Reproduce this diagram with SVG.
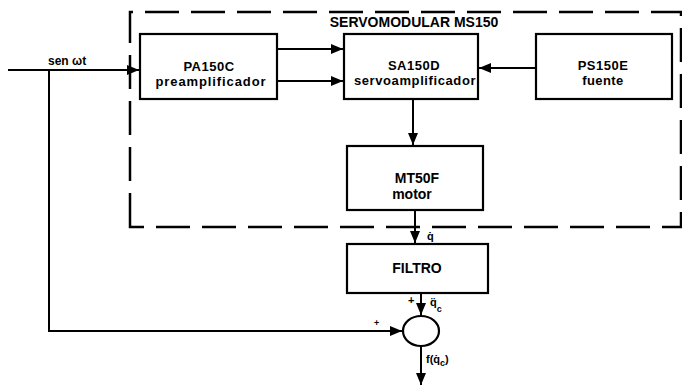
<svg xmlns="http://www.w3.org/2000/svg" width="682" height="386" viewBox="0 0 682 386">
<style>
.box{fill:#fff;stroke:#000;stroke-width:2.2}
.ln{fill:none;stroke:#000;stroke-width:2}
.t{font-family:"Liberation Sans",Arial,sans-serif;font-weight:bold;font-size:14px;fill:#000;text-anchor:middle}
.t2{font-family:"Liberation Sans",Arial,sans-serif;font-weight:bold;font-size:13px;fill:#000;text-anchor:middle}
.s{font-family:"Liberation Sans",Arial,sans-serif;font-weight:bold;font-size:11px;fill:#000}
</style>
<defs>
<marker id="ah" markerWidth="12" markerHeight="10" refX="12" refY="5" orient="auto" markerUnits="userSpaceOnUse">
<path d="M0,0 L12,5 L0,10 Z" fill="#000"/>
</marker>
</defs>
<rect width="682" height="386" fill="#fff"/>
<g id="servomodular">
<path d="M130,227 L130,12 L681,12 L681,227 Z" fill="none" stroke="#000" stroke-width="2.5" stroke-dasharray="34 12"/>
<text class="t" x="414" y="27">SERVOMODULAR MS150</text>
</g>
<g id="pa150c">
<rect class="box" x="140" y="34" width="137" height="65"/>
<text class="t2" x="209" y="71" style="letter-spacing:0.5px">PA150C</text>
<text class="t2" x="211" y="86" style="letter-spacing:0.9px">preamplificador</text>
</g>
<g id="sa150d">
<rect class="box" x="344" y="34" width="134" height="65"/>
<text class="t2" x="414" y="70" style="letter-spacing:0.5px">SA150D</text>
<text class="t2" x="415" y="85" style="letter-spacing:0.6px">servoamplificador</text>
</g>
<g id="ps150e">
<rect class="box" x="536" y="34" width="136" height="65"/>
<text class="t2" x="603" y="70" style="letter-spacing:0.5px">PS150E</text>
<text class="t2" x="603" y="85" style="letter-spacing:0.4px">fuente</text>
</g>
<g id="mt50f">
<rect class="box" x="347" y="146" width="136" height="64"/>
<text class="t" x="417" y="183">MT50F</text>
<text class="t" x="412" y="199">motor</text>
</g>
<g id="filtro">
<rect class="box" x="347" y="244" width="141" height="49"/>
<text class="t" x="417" y="273">FILTRO</text>
</g>
<g id="suma">
<ellipse cx="421" cy="331" rx="18" ry="15" fill="#fff" stroke="#000" stroke-width="2.2"/>
</g>
<g id="connectors">
<line class="ln" x1="8" y1="70" x2="139" y2="70" marker-end="url(#ah)"/>
<polyline class="ln" points="49,70 49,331 402,331" marker-end="url(#ah)"/>
<line class="ln" x1="277" y1="49" x2="343" y2="49" marker-end="url(#ah)"/>
<line class="ln" x1="277" y1="81" x2="343" y2="81" marker-end="url(#ah)"/>
<line class="ln" x1="536" y1="68" x2="479" y2="68" marker-end="url(#ah)"/>
<line class="ln" x1="413" y1="99" x2="413" y2="145" marker-end="url(#ah)"/>
<line class="ln" x1="415" y1="210" x2="415" y2="243" marker-end="url(#ah)"/>
<line class="ln" x1="421" y1="293" x2="421" y2="315" marker-end="url(#ah)"/>
<line class="ln" x1="421" y1="346" x2="421" y2="385" marker-end="url(#ah)"/>
</g>
<g id="labels">
<text class="s" x="48" y="65" style="font-size:12px">sen ωt</text>
<text class="s" x="427" y="240">q̇</text>
<text class="s" x="408" y="304">+</text>
<text class="s" x="430" y="306">q̈<tspan dx="0" dy="6" style="font-size:9px">c</tspan></text>
<text class="s" x="374" y="326" style="font-size:9px">+</text>
<text class="s" x="426" y="363">f(q̇<tspan dy="3" style="font-size:9px">c</tspan><tspan dy="-3">)</tspan></text>
</g>
</svg>
